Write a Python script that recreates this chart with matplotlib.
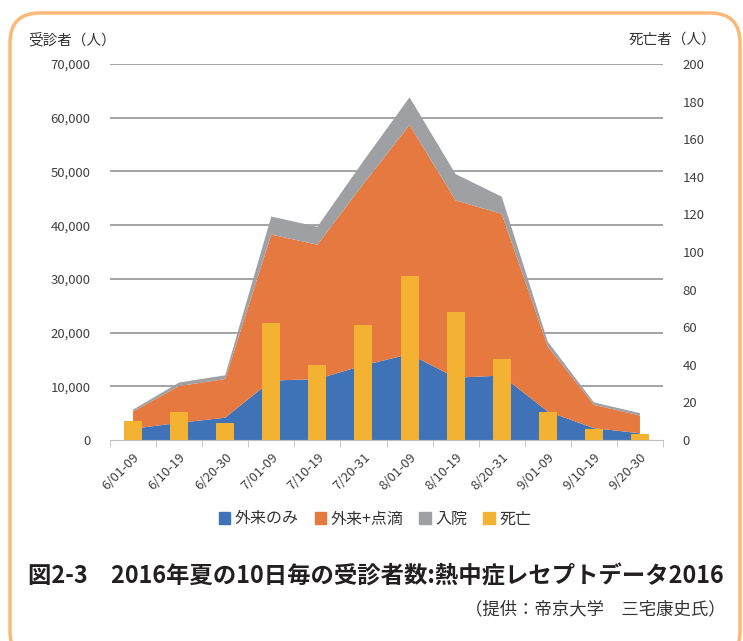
import numpy as np
import matplotlib.pyplot as plt
from matplotlib.patches import FancyBboxPatch, Patch

plt.rcParams['font.family'] = ['Noto Sans CJK JP', 'DejaVu Sans']

# data (10-day periods, summer 2016)
periods = ['6/01-09', '6/10-19', '6/20-30', '7/01-09', '7/10-19', '7/20-31',
           '8/01-09', '8/10-19', '8/20-31', '9/01-09', '9/10-19', '9/20-30']
outpatient = [2100, 3200, 4150, 11050, 11350, 13900, 16000, 11600, 12000, 5300, 2200, 1250]
out_drip = [3200, 6850, 7200, 27200, 25000, 33800, 42650, 33000, 30100, 12100, 4350, 3300]
inpatient = [350, 650, 700, 3350, 3350, 4250, 5150, 4900, 3200, 900, 450, 450]
deaths = [10, 15, 9, 62, 40, 61, 87, 68, 43, 15, 6, 3]

left_ticks = [0, 10000, 20000, 30000, 40000, 50000, 60000, 70000]
right_ticks = [0, 20, 40, 60, 80, 100, 120, 140, 160, 180, 200]

c_blue = '#3F72B7'
c_orange = '#E5793F'
c_gray = '#9FA0A4'
c_yellow = '#F4B233'
txt = '#404040'

fig = plt.figure(figsize=(7.43, 6.41), dpi=100)
ax = fig.add_axes([110/743, 1 - 440/641, 553/743, 376/641])
x = np.arange(len(periods))

ax.stackplot(x, outpatient, out_drip, inpatient,
             colors=[c_blue, c_orange, c_gray], zorder=2)
ax.set_xlim(-0.5, len(periods) - 0.5)
ax.set_ylim(0, 70000)
ax.set_yticks(left_ticks)
ax.set_yticklabels([f'{v:,}' for v in left_ticks], color=txt, fontsize=9.5)
for v in left_ticks[1:]:
    ax.axhline(v, color='#8A8A8A', lw=1.1, zorder=1)
ax.tick_params(axis='y', length=0, pad=14)

ax.set_xticks(np.arange(len(periods) + 1) - 0.5, minor=True)
ax.set_xticks(x)
ax.set_xticklabels(periods, rotation=45, ha='right', va='top',
                   rotation_mode='anchor', color=txt, fontsize=9.5)
ax.tick_params(axis='x', which='major', length=0, pad=8)
ax.tick_params(axis='x', which='minor', length=5, color='#BFBFBF')

for s in ['top', 'right', 'left']:
    ax.spines[s].set_visible(False)
ax.spines['bottom'].set_color('#BFBFBF')

ax2 = ax.twinx()
ax2.bar(x, deaths, width=0.39, color=c_yellow, zorder=3)
ax2.set_ylim(0, 200)
ax2.set_yticks(right_ticks)
ax2.set_yticklabels([str(v) for v in right_ticks], color=txt, fontsize=9.5)
ax2.tick_params(axis='y', length=0, pad=14)
for s in ['top', 'right', 'left', 'bottom']:
    ax2.spines[s].set_visible(False)

fig.text(28/743, 1 - 40/641, '受診者（人）', fontsize=10.5, color='#333333',
         ha='left', va='center')
fig.text(716/743, 1 - 40/641, '死亡者（人）', fontsize=10.5, color='#333333',
         ha='right', va='center')

handles = [Patch(color=c_blue), Patch(color=c_orange),
           Patch(color=c_gray), Patch(color=c_yellow)]
fig.legend(handles, ['外来のみ', '外来+点滴', '入院', '死亡'],
           loc='center', bbox_to_anchor=(375/743, 1 - 519/641), ncol=4,
           frameon=False, fontsize=11.5, handlelength=0.7, handleheight=0.7,
           handletextpad=0.3, columnspacing=1.0, labelcolor='#333333')

fig.text(28/743, 1 - 576/641, '図2-3　2016年夏の10日毎の受診者数:熱中症レセプトデータ2016',
         fontsize=16.8, fontweight='bold', color='#231F20', ha='left', va='center')
fig.text(726/743, 1 - 609/641, '（提供：帝京大学　三宅康史氏）',
         fontsize=12.5, color='#333333', ha='right', va='center')

frame = FancyBboxPatch((10/743, -20/641), 730/743, 648/641,
                       boxstyle='round,pad=0,rounding_size=0.04',
                       transform=fig.transFigure, fill=False,
                       edgecolor='#FBB878', lw=2.5, mutation_aspect=743/641)
fig.patches.append(frame)

fig.savefig('out.png', dpi=100)
